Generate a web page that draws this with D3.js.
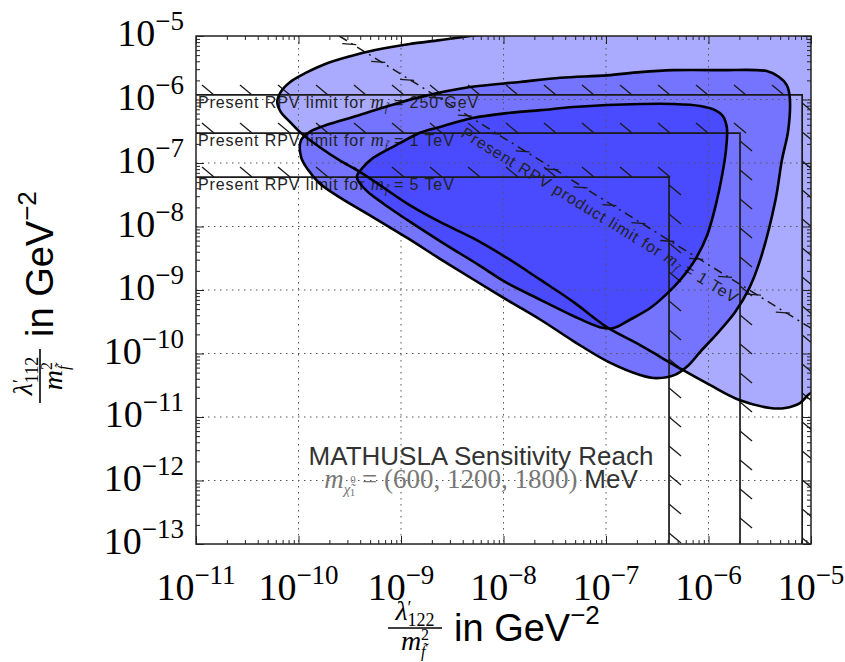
<!DOCTYPE html>
<html lang="en">
<head>
  <meta charset="utf-8">
  <title>MATHUSLA Sensitivity Reach</title>
  <script src="https://d3js.org/d3.v7.min.js" charset="utf-8"></script>
  <style>
    body { margin: 0; background: white; }
    svg { display: block; }
  </style>
</head>
<body>
<svg id="chart" width="845" height="662"></svg>
<script>
  // contour regions, [lambda'_122/m^2, lambda'_112/m^2] in GeV^-2
  var regionOuter = [
    [6.2e-11, 9.1e-7], [6.7e-11, 1.31e-6], [8.3e-11, 1.89e-6], [1.16e-10, 2.6e-6],
    [1.8e-10, 3.6e-6], [3.2e-10, 4.8e-6], [5.6e-10, 6.0e-6], [1.22e-9, 7.5e-6],
    [2.4e-9, 8.6e-6], [4.7e-9, 1e-5], [9.2e-9, 1.2e-5], [9.2e-9, 1.8e-5],
    [1.5e-5, 1.8e-5], [1.5e-5, 2.7e-11], [1e-5, 2.4e-11], [7.8e-6, 1.66e-11],
    [5.6e-6, 1.39e-11], [4.0e-6, 1.39e-11], [2.0e-6, 1.85e-11], [1.03e-6, 3.2e-11],
    [5.6e-7, 5.5e-11], [3.4e-7, 8.8e-11], [2.15e-7, 1.36e-10], [1.02e-7, 2.6e-10],
    [4.8e-8, 6.5e-10], [2.3e-8, 1.44e-9], [1.08e-8, 3.2e-9], [5.0e-9, 6.6e-9],
    [2.4e-9, 1.18e-8], [1.15e-9, 2.3e-8], [6.2e-10, 4.5e-8], [4.0e-10, 7.2e-8],
    [2.5e-10, 1.11e-7], [1.6e-10, 1.79e-7], [1.1e-10, 2.8e-7], [8.3e-11, 4.4e-7],
    [6.7e-11, 6.4e-7]
  ];
  var regionMiddle = [
    [1.06e-10, 2.3e-7], [1.29e-10, 3.1e-7], [2.0e-10, 4.1e-7], [3.4e-10, 5.3e-7],
    [7.0e-10, 7.6e-7], [1.53e-9, 1.09e-6], [4.7e-9, 1.57e-6], [1.45e-8, 1.89e-6],
    [3.6e-8, 2.2e-6], [1.02e-7, 2.4e-6], [2.15e-7, 2.7e-6], [4.5e-7, 2.9e-6],
    [1.29e-6, 2.9e-6], [3.7e-6, 2.8e-6], [4.8e-6, 2.3e-6], [5.8e-6, 1.69e-6],
    [6.2e-6, 1.09e-6], [6.0e-6, 3.3e-7], [5.2e-6, 1.11e-7], [4.5e-6, 2.6e-8],
    [3.2e-6, 3.0e-9], [2.5e-6, 1.07e-9], [1.82e-6, 4.5e-10], [1.29e-6, 2.3e-10],
    [8.3e-7, 1.06e-10], [6.3e-7, 6.4e-11], [4.7e-7, 4.6e-11], [3.1e-7, 4.1e-11],
    [2.15e-7, 4.6e-11], [1.02e-7, 7.6e-11], [4.8e-8, 1.57e-10], [2.3e-8, 3.4e-10],
    [1.08e-8, 7.0e-10], [5.0e-9, 1.49e-9], [2.4e-9, 3.1e-9], [1.15e-9, 6.6e-9],
    [5.3e-10, 1.41e-8], [2.5e-10, 2.9e-8], [1.6e-10, 4.8e-8], [1.24e-10, 7.8e-8],
    [1.06e-10, 1.24e-7]
  ];
  var regionInner = [
    [3.7e-10, 6.0e-8], [4.3e-10, 8.7e-8], [5.2e-10, 1.16e-7], [7.0e-10, 1.55e-7],
    [9.8e-10, 2.07e-7], [1.53e-9, 3.0e-7], [2.4e-9, 3.7e-7], [5.0e-9, 5.1e-7],
    [1.08e-8, 6.1e-7], [2.3e-8, 6.8e-7], [4.8e-8, 7.6e-7], [1.02e-7, 8.2e-7],
    [2.15e-7, 8.5e-7], [4.5e-7, 8.5e-7], [8.3e-7, 7.9e-7], [1.16e-6, 6.8e-7],
    [1.38e-6, 5.5e-7], [1.51e-6, 3.6e-7], [1.48e-6, 1.6e-7], [1.36e-6, 6.5e-8],
    [1.18e-6, 2.2e-8], [9.7e-7, 7.3e-9], [7.4e-7, 3.0e-9], [5.3e-7, 1.44e-9],
    [3.9e-7, 8.6e-10], [2.7e-7, 5.2e-10], [1.71e-7, 3.4e-10], [1.17e-7, 2.5e-10],
    [8.7e-8, 2.6e-10], [4.8e-8, 3.9e-10], [2.3e-8, 7.0e-10], [1.08e-8, 1.29e-9],
    [5.9e-9, 2.4e-9], [2.4e-9, 5.9e-9], [1.15e-9, 1.27e-8], [6.7e-10, 2.3e-8],
    [4.5e-10, 3.8e-8]
  ];

  // present RPV limits (single coupling) for three sfermion masses
  var rpvMass = ["250 GeV", "1 TeV", "5 TeV"];
  var rpvXLimit = [8.2e-6, 2.03e-6, 4.12e-7];
  var rpvYLimit = [1.18e-6, 2.96e-7, 6.0e-8];

  // present RPV product limit for m = 1 TeV (straight line in log-log)
  var productLimit = [[2.5e-10, 1e-5], [1e-5, 2.5e-10]];

  var xTickExp = [-11, -10, -9, -8, -7, -6, -5];
  var yTickExp = [-13, -12, -11, -10, -9, -8, -7, -6, -5];

  var serif = "'Liberation Serif', 'DejaVu Serif', serif",
      sans = "'Liberation Sans', Arial, sans-serif";

  var svg = d3.select("#chart"),
      pl = 196, pr = 811, pt = 36, pb = 544;

  var x = d3.scaleLog().domain([1e-11, 1e-5]).range([pl, pr]),
      y = d3.scaleLog().domain([1e-13, 1e-5]).range([pb, pt]);

  var xMajor = xTickExp.map(function(e) { return Math.pow(10, e); }),
      yMajor = yTickExp.map(function(e) { return Math.pow(10, e); });
  function minors(major) {
    var out = [];
    major.slice(0, -1).forEach(function(m) {
      for (var k = 2; k < 10; k++) out.push(m * k);
    });
    return out;
  }

  svg.append("defs").append("clipPath").attr("id", "plotclip")
    .append("rect")
    .attr("x", pl).attr("y", pt)
    .attr("width", pr - pl).attr("height", pb - pt);

  var plot = svg.append("g").attr("clip-path", "url(#plotclip)");

  var contour = d3.line()
    .x(function(d) { return x(d[0]); })
    .y(function(d) { return y(d[1]); })
    .curve(d3.curveCatmullRomClosed.alpha(0.5));

  var regions = [regionOuter, regionMiddle, regionInner],
      fills = ["#aaaaff", "#7474ff", "#4a4aff"];

  regions.forEach(function(r, i) {
    plot.append("path").attr("d", contour(r)).attr("fill", fills[i]);
  });

  // dotted grid
  var grid = plot.append("g")
    .attr("stroke", "#555").attr("stroke-width", 1).attr("stroke-dasharray", "1.5,4.5");
  xMajor.slice(1, -1).forEach(function(v) {
    grid.append("line").attr("x1", x(v)).attr("x2", x(v)).attr("y1", pt).attr("y2", pb);
  });
  yMajor.slice(1, -1).forEach(function(v) {
    grid.append("line").attr("x1", pl).attr("x2", pr).attr("y1", y(v)).attr("y2", y(v));
  });

  // RPV limit boxes with hatching on the excluded side
  var boxes = plot.append("g").attr("stroke", "#1a1a1a").attr("fill", "none");
  rpvXLimit.forEach(function(xv, i) {
    var xs = x(xv), ys = y(rpvYLimit[i]);
    boxes.append("path")
      .attr("d", "M" + pl + "," + ys + "H" + xs + "V" + pb)
      .attr("stroke-width", 1.7);
    for (var hx = pl + 6; hx < xs - 6; hx += 38) {
      boxes.append("line").attr("stroke-width", 1.3)
        .attr("x1", hx).attr("y1", ys - 10).attr("x2", hx + 12).attr("y2", ys);
    }
    for (var hy = ys + 8; hy < pb - 4; hy += 29) {
      boxes.append("line").attr("stroke-width", 1.3)
        .attr("x1", xs).attr("y1", hy).attr("x2", xs + 12).attr("y2", hy + 10);
    }
  });

  // product limit line
  var p0 = [x(productLimit[0][0]), y(productLimit[0][1])],
      p1 = [x(productLimit[1][0]), y(productLimit[1][1])];
  plot.append("line")
    .attr("x1", p0[0]).attr("y1", p0[1]).attr("x2", p1[0]).attr("y2", p1[1])
    .attr("stroke", "#1a1a1a").attr("stroke-width", 1.5)
    .attr("stroke-dasharray", "9,5,2,5");
  var plen = Math.hypot(p1[0] - p0[0], p1[1] - p0[1]);
  for (var s = 20; s < plen; s += 34) {
    var px = p0[0] + (p1[0] - p0[0]) * s / plen,
        py = p0[1] + (p1[1] - p0[1]) * s / plen;
    plot.append("line")
      .attr("x1", px).attr("y1", py - 2).attr("x2", px - 14).attr("y2", py - 3)
      .attr("stroke", "#1a1a1a").attr("stroke-width", 1.3);
  }

  // labels inside the plot
  function mfTilde(t, size) {
    t.append("tspan").attr("font-family", serif).attr("font-style", "italic")
      .attr("font-size", size + 2).text(" m");
    t.append("tspan").attr("font-family", serif).attr("font-style", "italic")
      .attr("font-size", size - 5).attr("dy", 4).text("f\u0303");
  }
  rpvMass.forEach(function(m, i) {
    var t = plot.append("text")
      .attr("x", pl + 2).attr("y", y(rpvYLimit[i]) + 13)
      .attr("font-family", sans).attr("font-size", 16).attr("fill", "#222")
      .attr("letter-spacing", 0.9);
    t.append("tspan").text("Present RPV limit  for");
    mfTilde(t, 16);
    t.append("tspan").attr("dy", -4).text(" = " + m);
  });

  var rot = plot.append("text")
    .attr("transform", "translate(460,136) rotate(31.5)")
    .attr("font-family", sans).attr("font-size", 16).attr("fill", "#222")
    .attr("letter-spacing", 0.9);
  rot.append("tspan").text("Present RPV product limit  for");
  mfTilde(rot, 16);
  rot.append("tspan").attr("dy", -4).text(" = 1 TeV");

  // contour outlines on top
  regions.forEach(function(r) {
    plot.append("path").attr("d", contour(r))
      .attr("fill", "none").attr("stroke", "#000").attr("stroke-width", 2.6)
      .attr("stroke-linejoin", "round");
  });

  var note = svg.append("g");
  note.append("text")
    .attr("x", 481).attr("y", 465).attr("text-anchor", "middle")
    .attr("font-family", sans).attr("font-size", 26).attr("fill", "#333")
    .text("MATHUSLA Sensitivity Reach");
  var n2 = note.append("text")
    .attr("x", 481).attr("y", 488).attr("text-anchor", "middle")
    .attr("font-family", serif).attr("font-size", 27).attr("fill", "#777");
  n2.append("tspan").attr("font-style", "italic").text("m");
  n2.append("tspan").attr("font-style", "italic").attr("font-size", 15).attr("dy", 6).text("\u03c7\u0303");
  n2.append("tspan").attr("font-size", 11).attr("dy", -11).text("0");
  n2.append("tspan").attr("font-size", 11).attr("dx", -6).attr("dy", 13).text("1");
  n2.append("tspan").attr("dy", -8).text(" = (600, 1200, 1800) ");
  n2.append("tspan").attr("font-family", sans).attr("font-size", 26).attr("fill", "#333").text("MeV");

  // frame, ticks
  svg.append("rect")
    .attr("x", pl).attr("y", pt).attr("width", pr - pl).attr("height", pb - pt)
    .attr("fill", "none").attr("stroke", "#222").attr("stroke-width", 1.5);

  function tickAxis(axis, tr) {
    svg.append("g").attr("transform", tr).call(axis)
      .call(function(g) { g.select(".domain").remove(); })
      .selectAll("line").attr("stroke", "#222").attr("stroke-width", 1);
  }
  function sides() {
    return [[d3.axisBottom(x), "translate(0," + pb + ")", xMajor],
            [d3.axisTop(x), "translate(0," + pt + ")", xMajor],
            [d3.axisLeft(y), "translate(" + pl + ",0)", yMajor],
            [d3.axisRight(y), "translate(" + pr + ",0)", yMajor]];
  }
  sides().forEach(function(a) {
    tickAxis(a[0].tickValues(a[2]).tickSize(-8).tickFormat(""), a[1]);
  });
  sides().forEach(function(a) {
    tickAxis(a[0].tickValues(minors(a[2])).tickSize(-4).tickFormat(""), a[1]);
  });

  // tick labels 10^n
  xTickExp.forEach(function(e) {
    var t = svg.append("text")
      .attr("x", x(Math.pow(10, e))).attr("y", 600).attr("text-anchor", "middle")
      .attr("font-family", serif).attr("font-size", 38).attr("fill", "#000");
    t.append("tspan").text("10");
    t.append("tspan").attr("font-size", 27).attr("dy", -16).text("\u2212" + Math.abs(e));
  });
  yTickExp.forEach(function(e) {
    var t = svg.append("text")
      .attr("x", 184).attr("y", y(Math.pow(10, e)) + 10).attr("text-anchor", "end")
      .attr("font-family", serif).attr("font-size", 38).attr("fill", "#000");
    t.append("tspan").text("10");
    t.append("tspan").attr("font-size", 27).attr("dy", -16).text("\u2212" + Math.abs(e));
  });

  // axis titles: lambda'/m^2 in GeV^-2
  function axisTitle(g, idx) {
    var num = g.append("text").attr("x", 27).attr("y", -8).attr("text-anchor", "middle")
      .attr("font-family", serif).attr("font-size", 28);
    num.append("tspan").attr("font-style", "italic").text("\u03bb");
    num.append("tspan").attr("font-size", 18).attr("dy", -6).text("\u2032");
    num.append("tspan").attr("font-size", 18).attr("dy", 12).attr("dx", -4).text(idx);
    g.append("line").attr("x1", 0).attr("x2", 54).attr("y1", 0).attr("y2", 0)
      .attr("stroke", "#000").attr("stroke-width", 1.6);
    var den = g.append("text").attr("x", 27).attr("y", 22).attr("text-anchor", "middle")
      .attr("font-family", serif).attr("font-size", 28);
    den.append("tspan").attr("font-style", "italic").text("m");
    den.append("tspan").attr("font-size", 16).attr("dy", -10).text("2");
    den.append("tspan").attr("font-size", 16).attr("font-style", "italic")
      .attr("dx", -8).attr("dy", 17).text("f\u0303");
    var t = g.append("text").attr("x", 66).attr("y", 13)
      .attr("font-family", sans).attr("font-size", 38).attr("fill", "#000").text("in GeV");
    t.append("tspan").attr("font-size", 26).attr("dy", -17).text("\u22122");
  }
  axisTitle(svg.append("g").attr("transform", "translate(388,628)"), "122");
  axisTitle(svg.append("g").attr("transform", "translate(40,403) rotate(-90)"), "112");
</script>
</body>
</html>
